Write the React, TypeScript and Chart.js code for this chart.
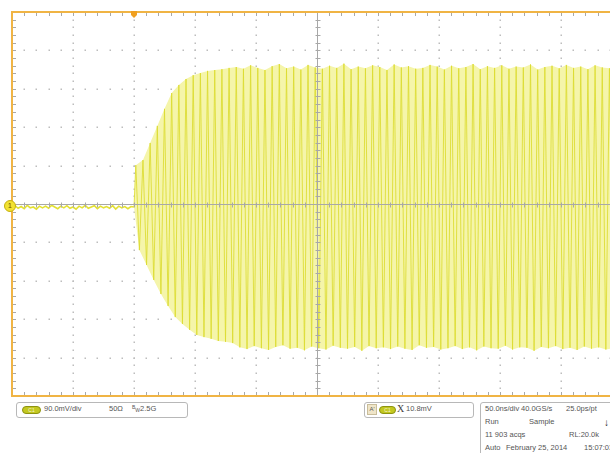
import React, { useEffect, useRef } from "react";
import { Chart, registerables } from "chart.js";

Chart.register(...registerables);

// Scope settings (time in ns, voltage in mV)
const TIME_DIV_NS = 50;
const VOLT_DIV_MV = 90;
const X_DIVS = 10;
const Y_DIVS = 10;
const TIME_MIN = -100;
const TIME_MAX = TIME_MIN + X_DIVS * TIME_DIV_NS;
const VOLT_MIN = -(Y_DIVS / 2) * VOLT_DIV_MV;
const VOLT_MAX = (Y_DIVS / 2) * VOLT_DIV_MV;
const NOISE_STEP_NS = 2.5;
const BURST_CYCLES = 68;

// Pre-trigger baseline samples (mV)
const preTriggerNoise = [
  -7, -4, -10, -6, -11, -3, -9, -7, -12, -5,
  -9, -5, -10, -3, -7, -11, -5, -9, -4, -10,
  -7, -12, -5, -9, -3, -10, -7, -4, -11, -5,
  -9, -6, -10, -4, -12, -5, -9, -6, -11, -6,
];

// Burst peak values per cycle (mV)
const cyclePeaks = [
  91, 103, 143, 183, 223, 260, 279, 293, 302, 307,
  312, 314, 316, 319, 321, 317, 325, 319, 314, 323,
  328, 318, 322, 315, 326, 320, 317, 324, 319, 329,
  316, 322, 318, 325, 321, 314, 327, 320, 323, 317,
  319, 326, 322, 315, 324, 318, 321, 328, 316, 323,
  319, 325, 317, 322, 320, 327, 315, 321, 324, 318,
  326, 319, 322, 316, 325, 320, 318, 323,
];

// Burst trough values per cycle (mV)
const cycleTroughs = [
  -108, -143, -178, -211, -239, -265, -281, -295, -307, -312,
  -316, -321, -323, -326, -336, -340, -333, -338, -342, -335,
  -331, -339, -337, -343, -334, -338, -341, -332, -337, -339,
  -335, -344, -333, -338, -336, -340, -334, -339, -342, -331,
  -337, -335, -341, -338, -333, -340, -336, -343, -334, -338,
  -339, -332, -341, -336, -337, -344, -335, -338, -333, -340,
  -337, -342, -334, -339, -336, -341, -338, -335,
];

const TRIGGER_LEVEL_MV = -7;

function buildSeries() {
  const period = (TIME_MAX - 0) / BURST_CYCLES;
  const noise = preTriggerNoise.map((v, j) => ({ x: TIME_MIN + j * NOISE_STEP_NS, y: v }));
  const start = { x: 0, y: TRIGGER_LEVEL_MV };
  const peaks = cyclePeaks.map((v, i) => ({ x: (i + 0.25) * period, y: v }));
  const troughs = cycleTroughs.map((v, i) => ({ x: (i + 0.75) * period, y: v }));
  const zigzag: { x: number; y: number }[] = [start];
  for (let i = 0; i < BURST_CYCLES; i++) {
    zigzag.push(peaks[i]);
    zigzag.push(troughs[i]);
  }
  return { noise: [...noise, start], zigzag, upper: [start, ...peaks], lower: [start, ...troughs] };
}

const scopePlugin = {
  id: "scopeGraticule",
  beforeDatasetsDraw(chart: any) {
    const { ctx, scales } = chart;
    const x = scales.x;
    const y = scales.y;
    ctx.save();
    ctx.fillStyle = "#bdbdbd";
    for (let d = 1; d < X_DIVS; d++) {
      if (d === X_DIVS / 2) continue;
      const px = Math.round(x.getPixelForValue(TIME_MIN + d * TIME_DIV_NS));
      for (let m = 1; m < Y_DIVS * 5; m++) {
        const py = Math.round(y.getPixelForValue(VOLT_MIN + (m * VOLT_DIV_MV) / 5));
        ctx.fillRect(px - 0.5, py - 0.5, 1.5, 1.5);
      }
    }
    for (let d = 1; d < Y_DIVS; d++) {
      if (d === Y_DIVS / 2) continue;
      const py = Math.round(y.getPixelForValue(VOLT_MIN + d * VOLT_DIV_MV));
      for (let m = 1; m < X_DIVS * 5; m++) {
        const px = Math.round(x.getPixelForValue(TIME_MIN + (m * TIME_DIV_NS) / 5));
        ctx.fillRect(px - 0.5, py - 0.5, 1.5, 1.5);
      }
    }
    ctx.restore();
  },
  afterDatasetsDraw(chart: any) {
    const { ctx, chartArea: a, scales } = chart;
    const x = scales.x;
    const y = scales.y;
    const cx = Math.round(x.getPixelForValue(TIME_MIN + (X_DIVS / 2) * TIME_DIV_NS)) + 0.5;
    const cy = Math.round(y.getPixelForValue(0)) + 0.5;
    ctx.save();
    ctx.strokeStyle = "#a8a8a8";
    ctx.lineWidth = 1;
    ctx.beginPath();
    ctx.moveTo(a.left, cy);
    ctx.lineTo(a.right, cy);
    ctx.moveTo(cx, a.top);
    ctx.lineTo(cx, a.bottom);
    for (let m = 1; m < X_DIVS * 5; m++) {
      const px = Math.round(x.getPixelForValue(TIME_MIN + (m * TIME_DIV_NS) / 5)) + 0.5;
      ctx.moveTo(px, cy - 2);
      ctx.lineTo(px, cy + 3);
      ctx.moveTo(px, a.top);
      ctx.lineTo(px, a.top + 4);
      ctx.moveTo(px, a.bottom);
      ctx.lineTo(px, a.bottom - 4);
    }
    for (let m = 1; m < Y_DIVS * 5; m++) {
      const py = Math.round(y.getPixelForValue(VOLT_MIN + (m * VOLT_DIV_MV) / 5)) + 0.5;
      ctx.moveTo(cx - 2, py);
      ctx.lineTo(cx + 3, py);
      ctx.moveTo(a.left, py);
      ctx.lineTo(a.left + 4, py);
      ctx.moveTo(a.right, py);
      ctx.lineTo(a.right - 4, py);
    }
    ctx.stroke();
    ctx.strokeStyle = "#f0b444";
    ctx.lineWidth = 2;
    ctx.strokeRect(a.left, a.top, a.right - a.left, a.bottom - a.top);
    const tx = x.getPixelForValue(0);
    ctx.fillStyle = "#f0a020";
    ctx.beginPath();
    ctx.moveTo(tx - 3, a.top - 1);
    ctx.lineTo(tx + 3, a.top - 1);
    ctx.lineTo(tx + 3, a.top + 3);
    ctx.lineTo(tx, a.top + 6);
    ctx.lineTo(tx - 3, a.top + 3);
    ctx.closePath();
    ctx.fill();
    ctx.restore();
  },
};

const txt: React.CSSProperties = {
  position: "absolute",
  fontFamily: "'Liberation Sans', Arial, sans-serif",
  fontSize: 7.5,
  lineHeight: "8px",
  color: "#555",
  whiteSpace: "nowrap",
};

const box: React.CSSProperties = {
  position: "absolute",
  border: "1px solid #b8b8b8",
  borderRadius: 3,
  background: "#fff",
  boxSizing: "border-box",
};

function Pill({ left, top, width }: { left: number; top: number; width: number }) {
  return (
    <div
      style={{
        position: "absolute",
        left,
        top,
        width,
        height: 8,
        borderRadius: 4,
        background: "#c3c820",
        border: "1px solid #8d9312",
        boxSizing: "border-box",
        fontFamily: "'Liberation Sans', Arial, sans-serif",
        fontSize: 5,
        lineHeight: "6px",
        color: "#f4f4d0",
        textAlign: "center",
      }}
    >
      C1
    </div>
  );
}

export default function App() {
  const ref = useRef<HTMLCanvasElement | null>(null);

  useEffect(() => {
    if (!ref.current) return;
    const { noise, zigzag, upper, lower } = buildSeries();
    const chart = new Chart(ref.current, {
      type: "line",
      data: {
        datasets: [
          {
            data: noise,
            borderColor: "rgba(226,222,40,0.95)",
            borderWidth: 1.6,
            pointRadius: 0,
            fill: false,
            order: 0,
          },
          {
            data: zigzag,
            borderColor: "rgba(220,220,48,0.85)",
            borderWidth: 1,
            pointRadius: 0,
            fill: false,
            order: 1,
          },
          {
            data: upper,
            borderWidth: 0,
            borderColor: "rgba(0,0,0,0)",
            backgroundColor: "rgba(245,245,170,1)",
            pointRadius: 0,
            fill: "+1",
            order: 2,
          },
          {
            data: lower,
            borderWidth: 0,
            borderColor: "rgba(0,0,0,0)",
            pointRadius: 0,
            fill: false,
            order: 3,
          },
        ],
      },
      options: {
        animation: false,
        responsive: false,
        maintainAspectRatio: false,
        devicePixelRatio: 1,
        layout: { padding: { left: 12, top: 12, right: 18, bottom: 4 } },
        plugins: { legend: { display: false }, tooltip: { enabled: false } },
        scales: {
          x: { type: "linear", min: TIME_MIN, max: TIME_MAX, display: false },
          y: { type: "linear", min: VOLT_MIN, max: VOLT_MAX, display: false },
        },
        elements: { line: { tension: 0 }, point: { radius: 0 } },
      },
      plugins: [scopePlugin],
    });
    return () => chart.destroy();
  }, []);

  return (
    <div
      style={{
        position: "fixed",
        left: 0,
        top: 0,
        width: 610,
        height: 453,
        overflow: "hidden",
        background: "#fff",
      }}
    >
      <canvas ref={ref} width={640} height={400} style={{ position: "absolute", left: 0, top: 0, width: 640, height: 400 }} />

      <div
        style={{
          position: "absolute",
          left: 4,
          top: 200,
          width: 12,
          height: 12,
          borderRadius: 6,
          background: "#f2e232",
          border: "1px solid #c4b010",
          boxSizing: "border-box",
          fontFamily: "'Liberation Sans', Arial, sans-serif",
          fontSize: 7,
          lineHeight: "10px",
          textAlign: "center",
          color: "#5a4a00",
        }}
      >
        1
      </div>

      <div style={{ ...box, left: 16, top: 402, width: 172, height: 16 }} />
      <Pill left={22} top={406} width={19} />
      <div style={{ ...txt, left: 44, top: 405 }}>90.0mV/div</div>
      <div style={{ ...txt, left: 109, top: 405 }}>50Ω</div>
      <div style={{ ...txt, left: 132, top: 405 }}>
        <span style={{ fontSize: 5, position: "relative", top: -2 }}>B</span>
        <span style={{ fontSize: 5, position: "relative", top: 1 }}>W</span>2.5G
      </div>

      <div style={{ ...box, left: 364, top: 402, width: 110, height: 16 }} />
      <div
        style={{
          position: "absolute",
          left: 367,
          top: 404,
          width: 10,
          height: 11,
          background: "#efe5c8",
          border: "1px solid #c9bd9a",
          boxSizing: "border-box",
          fontFamily: "'Liberation Sans', Arial, sans-serif",
          fontSize: 6,
          lineHeight: "9px",
          color: "#555",
          textAlign: "center",
        }}
      >
        A'
      </div>
      <Pill left={379} top={406} width={17} />
      <div style={{ ...txt, left: 397, top: 403, fontSize: 10, lineHeight: "11px", fontFamily: "'Liberation Serif', serif", color: "#444" }}>
        X
      </div>
      <div style={{ ...txt, left: 406, top: 405 }}>10.8mV</div>

      <div style={{ ...box, left: 480, top: 402, width: 200, height: 70 }} />
      <div style={{ ...txt, left: 485, top: 405 }}>50.0ns/div</div>
      <div style={{ ...txt, left: 521, top: 405 }}>40.0GS/s</div>
      <div style={{ ...txt, left: 566, top: 405 }}>25.0ps/pt</div>
      <div style={{ ...txt, left: 485, top: 418 }}>Run</div>
      <div style={{ ...txt, left: 529, top: 418 }}>Sample</div>
      <div style={{ ...txt, left: 485, top: 431 }}>11 903 acqs</div>
      <div style={{ ...txt, left: 569, top: 431 }}>RL:20.0k</div>
      <div style={{ ...txt, left: 485, top: 444 }}>Auto</div>
      <div style={{ ...txt, left: 506, top: 444 }}>February 25, 2014</div>
      <div style={{ ...txt, left: 584, top: 444 }}>15:07:03</div>
      <div style={{ ...txt, left: 604, top: 417, fontSize: 10, lineHeight: "11px", color: "#222", fontWeight: 700 }}>↓</div>
    </div>
  );
}
